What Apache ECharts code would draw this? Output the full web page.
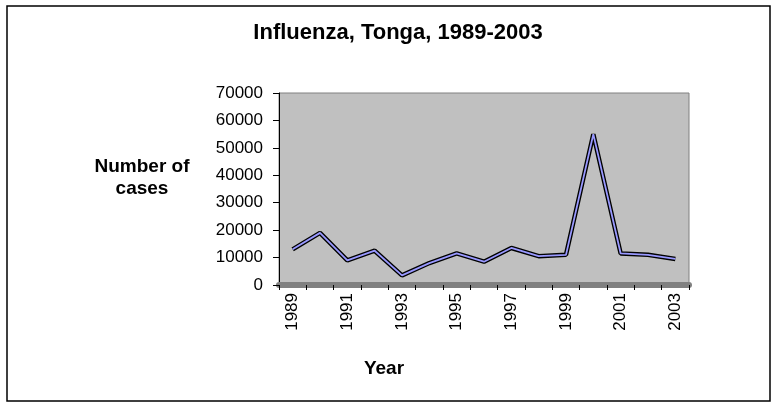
<!DOCTYPE html>
<html>
<head>
<meta charset="utf-8">
<title>Influenza, Tonga</title>
<script src="https://cdn.jsdelivr.net/npm/echarts@6/dist/echarts.min.js"></script>
<style>
    html, body { margin: 0; padding: 0; background: #fff; }
    #charts { width: 772px; height: 405px; }
</style>
</head>
<body>
<div id="charts"></div>
<script>
// values
var years = ['1989', '1990', '1991', '1992', '1993', '1994', '1995', '1996',
    '1997', '1998', '1999', '2000', '2001', '2002', '2003'];
var cases = [13000, 19000, 9000, 12500, 3500, 8000, 11500, 8500,
    13500, 10500, 11000, 55000, 11500, 11000, 9500];

var myChart = echarts.init(document.getElementById('charts'));
var font = 'Liberation Sans, Arial, sans-serif';
option = {
    animation: false,
    textStyle: { fontFamily: font, color: '#000' },
    graphic: [{
        type: 'rect',
        shape: { x: 7, y: 6, width: 763, height: 395 },
        style: { fill: 'none', stroke: '#000', lineWidth: 1.5 },
        silent: true
    }],
    title: {
        text: 'Influenza, Tonga, 1989-2003',
        left: 393,
        top: 17,
        textAlign: 'center',
        textStyle: { fontFamily: font, fontSize: 22, fontWeight: 'bold', color: '#000' }
    },
    grid: {
        left: 279,
        right: 83,
        top: 93,
        bottom: 120,
        show: true,
        backgroundColor: '#c0c0c0',
        borderColor: '#808080',
        borderWidth: 1
    },
    xAxis: {
        type: 'category',
        data: years,
        boundaryGap: true,
        name: 'Year',
        nameLocation: 'middle',
        nameGap: 74,
        nameTextStyle: { fontFamily: font, fontSize: 19, fontWeight: 'bold', color: '#000', padding: [0, 200, 0, 0] },
        axisLine: { lineStyle: { color: '#808080', width: 6 } },
        axisTick: { show: true, interval: 0, length: 5, lineStyle: { color: '#000' } },
        axisLabel: { interval: 1, rotate: 90, fontSize: 17, color: '#000', margin: 8, fontFamily: font }
    },
    yAxis: {
        type: 'value',
        min: 0,
        max: 70000,
        interval: 10000,
        // trailing empty line lifts the two-line name to sit above the axis middle
        name: 'Number of\ncases\n',
        nameLocation: 'middle',
        nameRotate: 0,
        nameGap: 137,
        nameTextStyle: { fontFamily: font, fontSize: 19, fontWeight: 'bold', color: '#000', align: 'center', verticalAlign: 'middle', lineHeight: 22 },
        axisLine: { show: true, lineStyle: { color: '#000', width: 1 } },
        axisTick: { show: true, length: 6, lineStyle: { color: '#000' } },
        axisLabel: {
            fontSize: 17, color: '#000', margin: 16, fontFamily: font,
            formatter: function (v) { return String(v); }
        },
        splitLine: { show: false }
    },
    series: [{
        name: 'edge',
        type: 'line',
        data: cases,
        symbol: 'none',
        lineStyle: { color: '#000', width: 4.5 },
        silent: true
    }, {
        name: 'Influenza',
        type: 'line',
        data: cases,
        symbol: 'none',
        lineStyle: { color: '#9999ff', width: 1.8 }
    }]
};
myChart.setOption(option);
</script>
</body>
</html>
